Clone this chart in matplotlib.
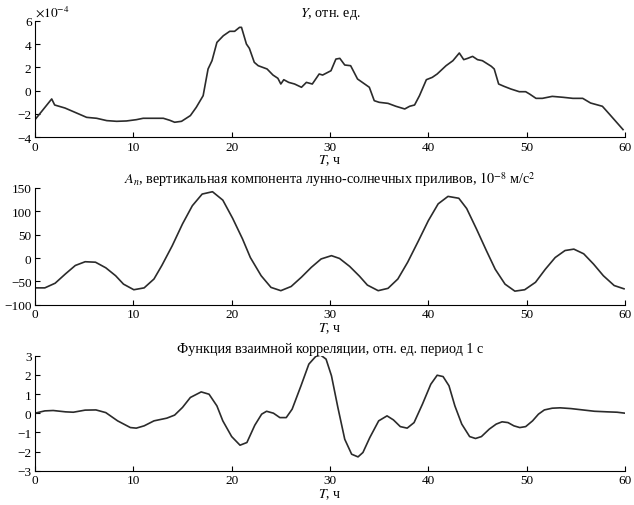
import matplotlib.pyplot as plt
import numpy as np

plt.rcParams['font.family'] = ['Liberation Serif', 'DejaVu Serif']
plt.rcParams['mathtext.fontset'] = 'stix'
plt.rcParams['axes.unicode_minus'] = True

# Panel 1: Y, rel. units (x 1e-4)
t1 = [0, 1.7, 2.0, 3.05, 4.07, 5.25, 6.27, 7.3, 8.3, 9.3, 10.3, 11.0, 12.0, 13.05,
      13.7, 14.2, 14.9, 15.8, 16.4, 17.1, 17.6, 18.0, 18.5, 19.15, 19.8, 20.3, 20.8,
      21.0, 21.5, 21.8, 22.3, 22.7, 23.6, 24.2, 24.7, 25.0, 25.3, 25.8, 26.4, 27.1,
      27.6, 28.2, 28.9, 29.25, 30.1, 30.6, 31.0, 31.5, 32.1, 32.8, 34.0, 34.5, 35.0,
      35.9, 36.7, 37.6, 38.1, 38.6, 39.1, 39.8, 40.4, 40.9, 41.8, 42.5, 43.15, 43.6,
      44.0, 44.5, 45.0, 45.5, 46.4, 46.7, 47.15, 47.7, 48.4, 49.25, 49.9, 50.3, 50.95,
      51.6, 52.6, 53.7, 54.7, 55.7, 56.5, 57.7, 58.4, 59.8]
y1 = [-2.49, -0.71, -1.23, -1.49, -1.86, -2.29, -2.37, -2.57, -2.63, -2.6, -2.49, -2.37,
      -2.37, -2.37, -2.54, -2.71, -2.63, -2.14, -1.43, -0.43, 1.86, 2.57, 4.14, 4.71,
      5.09, 5.09, 5.43, 5.43, 4.0, 3.63, 2.43, 2.14, 1.86, 1.34, 1.06, 0.57, 0.94, 0.71,
      0.57, 0.29, 0.71, 0.57, 1.43, 1.34, 1.71, 2.71, 2.77, 2.2, 2.14, 1.0, 0.29, -0.86,
      -1.0, -1.09, -1.34, -1.57, -1.34, -1.23, -0.43, 0.94, 1.14, 1.43, 2.14, 2.57, 3.23,
      2.66, 2.77, 2.94, 2.66, 2.57, 2.09, 1.86, 0.57, 0.37, 0.14, -0.09, -0.09, -0.29,
      -0.66, -0.66, -0.49, -0.57, -0.66, -0.66, -1.06, -1.34, -2.0, -3.34]

# Panel 2: vertical tidal component, 1e-8 m/s^2
t2 = [0, 1.0, 2.05, 3.1, 4.1, 5.1, 6.15, 7.2, 8.2, 9.0, 10.05, 11.1, 12.1, 12.9, 13.95,
      15.0, 16.0, 17.0, 18.05, 19.1, 20.1, 21.1, 21.9, 23.0, 24.0, 25.0, 26.05, 27.1,
      28.1, 29.1, 30.15, 30.97, 32.0, 33.0, 33.8, 34.9, 35.9, 36.9, 37.9, 39.0, 40.0,
      41.0, 42.0, 43.1, 43.9, 44.9, 45.9, 46.8, 47.8, 48.8, 49.8, 50.9, 51.9, 52.9,
      53.9, 54.8, 55.8, 56.8, 57.8, 58.9, 59.9]
a2 = [-64, -64, -54, -34, -16, -8, -9, -21, -38, -56, -68, -64, -45, -16, 26, 73, 112,
      137, 142, 124, 85, 41, 1, -38, -63, -70, -61, -41, -20, -2, 5, -1, -18, -39, -58,
      -70, -65, -45, -9, 37, 80, 116, 132, 128, 106, 62, 16, -24, -56, -71, -68, -52,
      -24, 1, 16, 19, 9, -13, -38, -59, -66]

# Panel 3: cross-correlation function
t3 = [0, 1.0, 1.85, 3.1, 3.9, 5.1, 6.2, 7.2, 8.4, 9.7, 10.3, 11.1, 12.1, 13.4, 14.2,
      15.0, 15.8, 16.9, 17.7, 18.5, 19.1, 20.0, 20.85, 21.55, 22.35, 23.05, 23.55,
      24.25, 24.9, 25.55, 26.15, 27.05, 27.85, 28.55, 29.05, 29.6, 30.15, 30.8, 31.5,
      32.2, 32.85, 33.35, 34.05, 34.95, 35.8, 36.45, 37.15, 37.85, 38.55, 39.4, 40.25,
      40.9, 41.5, 42.1, 42.7, 43.4, 44.2, 44.8, 45.4, 46.2, 46.9, 47.5, 48.1, 48.7,
      49.3, 49.9, 50.6, 51.2, 51.8, 52.6, 53.4, 54.5, 55.7, 56.9, 58.2, 59.2, 60]
c3 = [0, 0.12, 0.14, 0.07, 0.05, 0.16, 0.17, 0.03, -0.4, -0.75, -0.78, -0.66, -0.4,
      -0.26, -0.1, 0.3, 0.82, 1.11, 0.99, 0.38, -0.4, -1.22, -1.67, -1.53, -0.63,
      -0.05, 0.1, 0, -0.23, -0.23, 0.21, 1.43, 2.56, 2.96, 3.03, 2.82, 1.95, 0.3, -1.36,
      -2.14, -2.28, -2.05, -1.27, -0.4, -0.14, -0.35, -0.7, -0.78, -0.49, 0.47, 1.51,
      1.98, 1.91, 1.43, 0.38, -0.57, -1.22, -1.32, -1.22, -0.83, -0.57, -0.45,
      -0.49, -0.66, -0.75, -0.7, -0.4, -0.05, 0.17, 0.26, 0.28, 0.24, 0.17, 0.1, 0.07,
      0.05, 0]

titles = ['$Y$, отн. ед.',
          '$A_n$, вертикальная компонента лунно-солнечных приливов, $10^{-8}$ м/с$^2$',
          'Функция взаимной корреляции, отн. ед. период 1 с']

fig = plt.figure(figsize=(6.34, 5.06), dpi=100)
L, W = 0.0552, 0.9306
ax1 = fig.add_axes([L, 0.7267, W, 0.2304])
ax2 = fig.add_axes([L, 0.3959, W, 0.2306])
ax3 = fig.add_axes([L, 0.0678, W, 0.2273])

lc = '#2b2b2b'
ax1.plot(t1, y1, color=lc, lw=1.2)
ax2.plot(t2, a2, color=lc, lw=1.2)
ax3.plot(t3, c3, color=lc, lw=1.2)

ax1.set_ylim(-4, 6)
ax1.set_yticks([-4, -2, 0, 2, 4, 6])
ax2.set_ylim(-100, 150)
ax2.set_yticks([-100, -50, 0, 50, 100, 150])
ax3.set_ylim(-3, 3)
ax3.set_yticks([-3, -2, -1, 0, 1, 2, 3])

ax1.text(0.0, 1.015, r'$\times10^{-4}$', transform=ax1.transAxes,
         fontsize=9.5, ha='left', va='bottom')

for ax, title in zip([ax1, ax2, ax3], titles):
    ax.set_xlim(0, 60)
    ax.set_xticks(range(0, 61, 10))
    ax.spines['top'].set_visible(False)
    ax.spines['right'].set_visible(False)
    ax.tick_params(direction='in', length=3.5, width=0.8, labelsize=9.5, pad=2.5)
    ax.set_title(title, fontsize=10.2, pad=3)
    ax.set_xlabel('$T$, ч', fontsize=10, labelpad=0)

fig.savefig('out.png', dpi=100)
